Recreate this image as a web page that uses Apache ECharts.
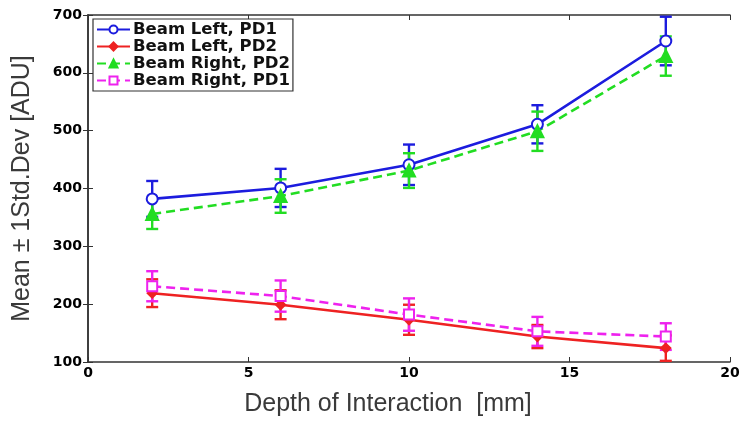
<!DOCTYPE html>
<html><head><meta charset="utf-8">
<script src="https://cdn.jsdelivr.net/npm/echarts@6/dist/echarts.min.js"></script>
<style>html,body{margin:0;padding:0;background:#fff}#c{width:750px;height:422px}</style>
</head><body><div id="c"></div>
<script>
var depth = [2, 6, 10, 14, 18];
var leftPD1 = [382, 401, 441, 511, 655];
var leftPD1Err = [31, 33, 35, 33, 42];
var leftPD2 = [219, 199, 173, 144, 124];
var leftPD2Err = [24, 25, 26, 20, 22];
var rightPD2 = [356, 387, 431, 499, 629];
var rightPD2Err = [26, 29, 30, 34, 34];
var rightPD1 = [231, 214, 182, 153, 144];
var rightPD1Err = [26, 27, 28, 25, 23];
var xTicks = [0, 5, 10, 15, 20];
var yTicks = [100, 200, 300, 400, 500, 600, 700];

var seriesDefs = [
  {name: 'Beam Left, PD1', y: leftPD1, e: leftPD1Err, color: '#1c1cde', dash: 'solid', symbol: 'emptyCircle', size: 11},
  {name: 'Beam Left, PD2', y: leftPD2, e: leftPD2Err, color: '#ee2222', dash: 'solid', symbol: 'diamond', size: 9},
  {name: 'Beam Right, PD2', y: rightPD2, e: rightPD2Err, color: '#22dd22', dash: [9, 5], symbol: 'triangle', size: 12},
  {name: 'Beam Right, PD1', y: rightPD1, e: rightPD1Err, color: '#ee22ee', dash: [9, 5], symbol: 'emptyRect', size: 10}
];

var series = [];
seriesDefs.forEach(function (s) {
  series.push({
    name: s.name, type: 'line', data: depth.map(function (d, i) { return [d, s.y[i]]; }),
    symbol: s.symbol, symbolSize: s.size, showAllSymbol: true,
    lineStyle: {color: s.color, width: 2.6, type: s.dash},
    itemStyle: {color: s.color, borderColor: s.color, borderWidth: 2},
    z: 3
  });
  series.push({
    name: s.name, type: 'custom', z: 2,
    data: depth.map(function (d, i) { return [d, s.y[i] - s.e[i], Math.min(700, s.y[i] + s.e[i])]; }),
    renderItem: function (params, api) {
      var lo = api.coord([api.value(0), api.value(1)]);
      var hi = api.coord([api.value(0), api.value(2)]);
      var w = 6;
      var st = {stroke: s.color, lineWidth: 2.4};
      return {type: 'group', children: [
        {type: 'line', shape: {x1: lo[0], y1: lo[1], x2: hi[0], y2: hi[1]}, style: st},
        {type: 'line', shape: {x1: lo[0] - w, y1: lo[1], x2: lo[0] + w, y2: lo[1]}, style: st},
        {type: 'line', shape: {x1: hi[0] - w, y1: hi[1], x2: hi[0] + w, y2: hi[1]}, style: st}
      ]};
    },
    encode: {x: 0, y: [1, 2]}
  });
});

var axisLine = {show: true, lineStyle: {color: '#333', width: 1.5}};
var tickFont = {fontFamily: 'DejaVu Sans', fontWeight: 'bold', fontSize: 14, color: '#000'};
var chart = echarts.init(document.getElementById('c'));
chart.setOption({
  animation: false,
  backgroundColor: '#fff',
  grid: {left: 88, right: 20, top: 15, bottom: 53, containLabel: false},
  legend: {
    orient: 'vertical', left: 93, top: 19,
    data: seriesDefs.map(function (s) { return s.name; }),
    itemWidth: 33, itemHeight: 10, itemGap: 0,
    padding: [2, 3, 2, 3],
    borderColor: '#333', borderWidth: 1.2, backgroundColor: '#fff',
    textStyle: {fontFamily: 'DejaVu Sans', fontWeight: 'bold', fontSize: 16.5, color: '#111', padding: [0, 0, 0, -2]}
  },
  xAxis: [{
    type: 'value', min: 0, max: 20, interval: 5,
    name: 'Depth of Interaction  [mm]', nameLocation: 'middle', nameGap: 30,
    nameTextStyle: {fontFamily: 'Liberation Sans', fontSize: 25, color: '#3a3a3a', padding: [0, 42, 0, 0]},
    axisLine: axisLine, axisTick: {inside: true, length: 5, lineStyle: {color: '#333'}},
    axisLabel: Object.assign({margin: 4, formatter: function (v) { return xTicks.indexOf(v) >= 0 ? String(v) : ''; }}, tickFont),
    splitLine: {show: false}
  }, {
    type: 'value', min: 0, max: 20, interval: 5, position: 'top',
    axisLine: axisLine, axisTick: {inside: true, length: 5, lineStyle: {color: '#333'}},
    axisLabel: {show: false}, splitLine: {show: false}
  }],
  yAxis: [{
    type: 'value', min: 100, max: 700, interval: 100,
    name: 'Mean \u00b1 1Std.Dev [ADU]', nameLocation: 'middle', nameGap: 53,
    nameTextStyle: {fontFamily: 'Liberation Sans', fontSize: 25, color: '#3a3a3a'},
    axisLine: axisLine, axisTick: {inside: true, length: 5, lineStyle: {color: '#333'}},
    axisLabel: Object.assign({margin: 6, formatter: function (v) { return yTicks.indexOf(v) >= 0 ? String(v) : ''; }}, tickFont),
    splitLine: {show: false}
  }, {
    type: 'value', min: 100, max: 700, interval: 100, position: 'right',
    axisLine: axisLine, axisTick: {inside: true, length: 5, lineStyle: {color: '#333'}},
    axisLabel: {show: false}, splitLine: {show: false}
  }],
  series: series
});
</script></body></html>
